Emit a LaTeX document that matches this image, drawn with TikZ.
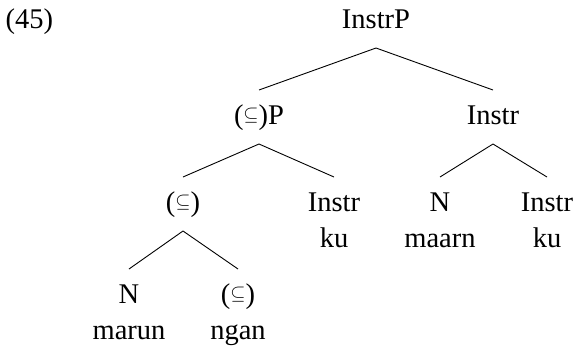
\RequirePackage{fix-cm}
\documentclass[tikz,border=0pt]{standalone}
\usepackage{fontspec}
\setmainfont{Liberation Serif}
\newcommand{\subsq}{\raisebox{4pt}{\fontsize{19.5}{19.5}\selectfont$\subseteq$}}
\begin{document}
\begin{tikzpicture}[x=1pt,y=-1pt,
  lbl/.style={anchor=base,inner sep=0pt,font=\fontsize{28.5}{34}\selectfont},
  edge/.style={line width=0.9pt}]
\useasboundingbox (0,0) rectangle (576,346);
\node[lbl,anchor=base west] (ex) at (5.5,28) {(45)};
\node[lbl] (root) at (376,28) {InstrP};
\node[lbl] (sp) at (259,124) {(\subsq)P};
\node[lbl] (ip) at (493,124) {Instr};
\node[lbl] (s) at (183,211) {(\subsq)};
\node[lbl] (i1) at (334,211) {Instr};
\node[lbl] (ku1) at (334,247) {ku};
\node[lbl] (n1) at (440,211) {N};
\node[lbl] (maarn) at (440,247) {maarn};
\node[lbl] (i2) at (547,211) {Instr};
\node[lbl] (ku2) at (547,247) {ku};
\node[lbl] (n2) at (129,303) {N};
\node[lbl] (marun) at (129,339) {marun};
\node[lbl] (s2) at (238,303) {(\subsq)};
\node[lbl] (ngan) at (238,339) {ngan};
\foreach \p/\c in {root/sp, root/ip, sp/s, sp/i1, ip/n1, ip/i2, s/n2, s/s2}
  \draw[edge] ([yshift=-20pt]\p.base) -- ([yshift=34pt]\c.base);
\end{tikzpicture}
\end{document}
